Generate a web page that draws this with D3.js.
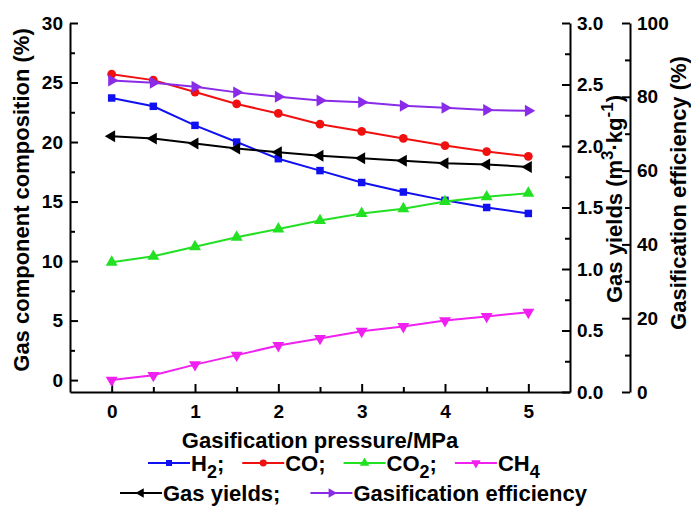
<!DOCTYPE html>
<html>
<head>
<meta charset="utf-8">
<script src="https://cdn.jsdelivr.net/npm/d3@7"></script>
<style>
  body { margin: 0; background: #fff; }
  text { font-family: "Liberation Sans", Arial, sans-serif; font-weight: bold; fill: #000; }
</style>
</head>
<body>
<svg id="chart" width="691" height="515"></svg>
<script>
// data
const pressure = [0, 0.5, 1, 1.5, 2, 2.5, 3, 3.5, 4, 4.5, 5];
const h2  = [23.7, 23.0, 21.4, 20.0, 18.6, 17.6, 16.6, 15.8, 15.1, 14.5, 14.0];
const co  = [25.7, 25.2, 24.2, 23.2, 22.4, 21.5, 20.9, 20.3, 19.7, 19.2, 18.8];
const co2 = [9.9, 10.4, 11.2, 12.0, 12.7, 13.4, 14.0, 14.4, 15.0, 15.4, 15.7];
const ch4 = [0.0, 0.4, 1.3, 2.1, 2.9, 3.5, 4.1, 4.5, 5.0, 5.35, 5.7];
const gasYield = [2.08, 2.06, 2.02, 1.98, 1.95, 1.92, 1.90, 1.88, 1.86, 1.85, 1.83];
const gasEff   = [84.4, 83.8, 82.7, 81.2, 80.0, 79.0, 78.5, 77.6, 77.0, 76.4, 76.2];

const xTicks = [0, 1, 2, 3, 4, 5];
const xMinor = [0.5, 1.5, 2.5, 3.5, 4.5];
const leftTicks = [0, 5, 10, 15, 20, 25, 30];
const leftMinor = [2.5, 7.5, 12.5, 17.5, 22.5, 27.5];
const yieldTicks = [0, 0.5, 1, 1.5, 2, 2.5, 3];
const yieldMinor = [0.25, 0.75, 1.25, 1.75, 2.25, 2.75];
const effTicks = [0, 20, 40, 60, 80, 100];
const effMinor = [10, 30, 50, 70, 90];

const svg = d3.select("#chart");

var x  = d3.scaleLinear().domain([-0.5, 5.5]).range([70, 570]);
var yL = d3.scaleLinear().domain([-1, 30]).range([392, 23]);
var yR = d3.scaleLinear().domain([0, 3]).range([392, 23]);
var yE = d3.scaleLinear().domain([0, 100]).range([392, 23]);

// symbols
const tri = d3.symbol().type(d3.symbolTriangle).size(62)();
const markers = {
  square:  { d: d3.symbol().type(d3.symbolSquare).size(56)(), rot: 0 },
  circle:  { d: d3.symbol().type(d3.symbolCircle).size(60)(), rot: 0 },
  up:      { d: tri, rot: 0 },
  down:    { d: tri, rot: 180 },
  left:    { d: tri, rot: -90 },
  right:   { d: tri, rot: 90 }
};

// label pieces: [text, "sub"?]
const series = [
  { values: h2,       y: yL, color: "#1010f0", marker: "square", label: [["H"], ["2", "sub"], [";"]] },
  { values: co,       y: yL, color: "#f01010", marker: "circle", label: [["CO;"]] },
  { values: co2,      y: yL, color: "#22e022", marker: "up",     label: [["CO"], ["2", "sub"], [";"]] },
  { values: ch4,      y: yL, color: "#f020f0", marker: "down",   label: [["CH"], ["4", "sub"]] },
  { values: gasYield, y: yR, color: "#000000", marker: "left",   label: [["Gas yields;"]] },
  { values: gasEff,   y: yE, color: "#8a2be8", marker: "right",  label: [["Gasification efficiency"]] }
];

// axes
function styleAxis(g) {
  g.selectAll("path.domain").attr("stroke", "#000").attr("stroke-width", 2);
  g.selectAll(".tick line").attr("stroke", "#000").attr("stroke-width", 2);
  g.selectAll(".tick text").style("font-size", "19px").style("font-family", "Liberation Sans, Arial, sans-serif").style("font-weight", "bold");
}

svg.append("g").attr("transform", "translate(0,392)")
  .call(d3.axisBottom(x).tickValues(xTicks).tickSize(-8).tickSizeOuter(0).tickPadding(13).tickFormat(d3.format("d")))
  .call(styleAxis);
svg.append("g").attr("transform", "translate(0,392)")
  .call(d3.axisBottom(x).tickValues(xMinor).tickSize(-5).tickFormat(""))
  .call(g => g.select(".domain").remove()).call(styleAxis);

svg.append("g").attr("transform", "translate(70,0)")
  .call(d3.axisLeft(yL).tickValues(leftTicks).tickSize(-8).tickSizeOuter(0).tickPadding(7))
  .call(styleAxis);
svg.append("g").attr("transform", "translate(70,0)")
  .call(d3.axisLeft(yL).tickValues(leftMinor).tickSize(-5).tickFormat(""))
  .call(g => g.select(".domain").remove()).call(styleAxis);

svg.append("g").attr("transform", "translate(570,0)")
  .call(d3.axisRight(yR).tickValues(yieldTicks).tickSize(-8).tickSizeOuter(0).tickPadding(7).tickFormat(d3.format(".1f")))
  .call(styleAxis);
svg.append("g").attr("transform", "translate(570,0)")
  .call(d3.axisRight(yR).tickValues(yieldMinor).tickSize(-5).tickFormat(""))
  .call(g => g.select(".domain").remove()).call(styleAxis);

svg.append("g").attr("transform", "translate(630,0)")
  .call(d3.axisRight(yE).tickValues(effTicks).tickSize(-8).tickSizeOuter(0).tickPadding(7))
  .call(styleAxis);
svg.append("g").attr("transform", "translate(630,0)")
  .call(d3.axisRight(yE).tickValues(effMinor).tickSize(-5).tickFormat(""))
  .call(g => g.select(".domain").remove()).call(styleAxis);

// axis titles
svg.append("text").attr("x", 320).attr("y", 448).attr("text-anchor", "middle")
  .style("font-size", "22px").text("Gasification pressure/MPa");

svg.append("text").attr("transform", "translate(29,200) rotate(-90)").attr("text-anchor", "middle")
  .style("font-size", "22px").text("Gas component composition (%)");

var yt = svg.append("text").attr("transform", "translate(622,199) rotate(-90)").attr("text-anchor", "middle")
  .style("font-size", "22px");
yt.append("tspan").text("Gas yields (m");
yt.append("tspan").attr("dy", -9).style("font-size", "17px").text("3");
yt.append("tspan").attr("dy", 9).text("·kg");
yt.append("tspan").attr("dy", -9).style("font-size", "17px").text("-1");
yt.append("tspan").attr("dy", 9).text(")");

svg.append("text").attr("transform", "translate(686,193) rotate(-90)").attr("text-anchor", "middle")
  .style("font-size", "22px").text("Gasification efficiency (%)");

// lines and markers
series.forEach(s => {
  const line = d3.line().x((d, i) => x(pressure[i])).y(d => s.y(d));
  svg.append("path").datum(s.values)
    .attr("d", line).attr("fill", "none")
    .attr("stroke", s.color).attr("stroke-width", 2);
  const m = markers[s.marker];
  svg.append("g").selectAll("path").data(s.values).enter().append("path")
    .attr("d", m.d)
    .attr("transform", (d, i) => "translate(" + x(pressure[i]) + "," + s.y(d) + ") rotate(" + m.rot + ")")
    .attr("fill", s.color);
});

// legend
function legendRow(items, startX, baseY, gap) {
  let cx = startX;
  items.forEach(s => {
    const midY = baseY - 8;
    svg.append("line").attr("x1", cx).attr("x2", cx + 42).attr("y1", midY).attr("y2", midY)
      .attr("stroke", s.color).attr("stroke-width", 2);
    const m = markers[s.marker];
    svg.append("path").attr("d", m.d).attr("fill", s.color)
      .attr("transform", "translate(" + (cx + 21) + "," + midY + ") rotate(" + m.rot + ") scale(0.8)");
    const t = svg.append("text").attr("x", cx + 43).attr("y", baseY).style("font-size", "22px");
    let shifted = 0;
    s.label.forEach(p => {
      const isSub = p[1] === "sub";
      const dy = isSub ? 7 : -shifted;
      shifted = isSub ? 7 : 0;
      const sp = t.append("tspan").attr("dy", dy).text(p[0]);
      if (isSub) sp.style("font-size", "18px");
    });
    cx += 43 + t.node().getComputedTextLength() + gap;
  });
}
legendRow(series.slice(0, 4), 148, 471, 18);
legendRow(series.slice(4), 120, 501, 30);
</script>
</body>
</html>
